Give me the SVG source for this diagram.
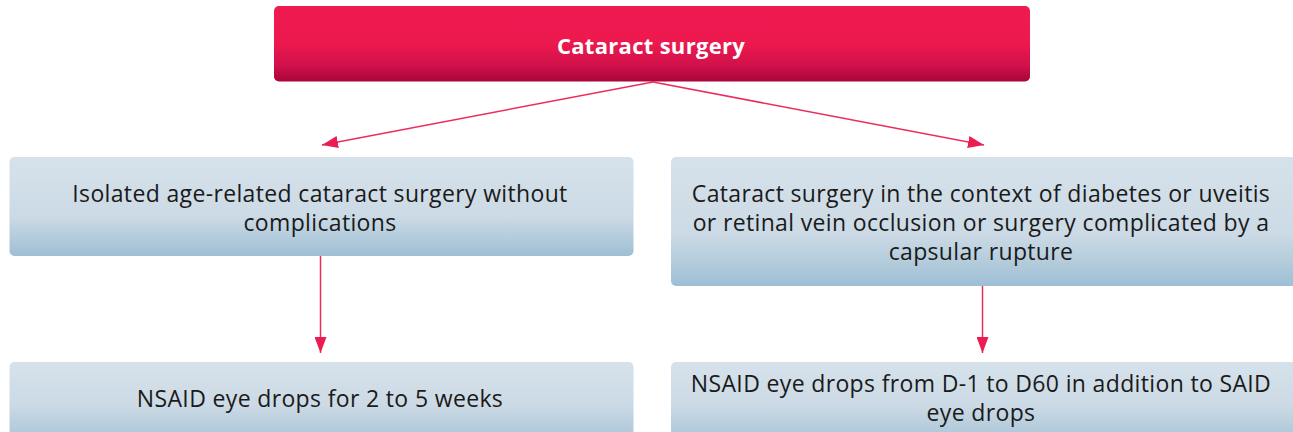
<svg xmlns="http://www.w3.org/2000/svg" width="1293" height="432" viewBox="0 0 1293 432">
<defs>
<linearGradient id="gRed" x1="0" y1="0" x2="0" y2="1">
<stop offset="0" stop-color="#F01A51"/>
<stop offset="0.5" stop-color="#EC194F"/>
<stop offset="0.8" stop-color="#D0104A"/>
<stop offset="1" stop-color="#A8063A"/>
</linearGradient>
<linearGradient id="gBlue" x1="0" y1="0" x2="0" y2="1">
<stop offset="0" stop-color="#D6E2EB"/>
<stop offset="0.6" stop-color="#CCDAE5"/>
<stop offset="1" stop-color="#9EBFD4"/>
</linearGradient>
<linearGradient id="gBlueBot" x1="0" y1="0" x2="0" y2="1">
<stop offset="0" stop-color="#D6E2EB"/>
<stop offset="0.55" stop-color="#CCDAE5"/>
<stop offset="1" stop-color="#A9C5D8"/>
</linearGradient>
<marker id="arr" viewBox="0 0 16 12" refX="16" refY="6" markerWidth="16" markerHeight="12" markerUnits="userSpaceOnUse" orient="auto">
<path d="M0,0 L16,6 L0,12 z" fill="#EC1C52"/>
</marker>
<style>
.blue{fill:url(#gBlue);}
.blueb{fill:url(#gBlueBot);}
.t{font-family:"Open Sans","Liberation Sans",sans-serif;font-size:23px;letter-spacing:0.35px;fill:#1a1a1a;text-anchor:middle;}
.tb{font-family:"Open Sans","Liberation Sans",sans-serif;font-size:22px;letter-spacing:0.3px;font-weight:bold;fill:#ffffff;text-anchor:middle;}
.c{stroke:#EC2C5C;stroke-width:1.5;fill:none;marker-end:url(#arr);}
</style>
</defs>
<g id="connectors">
<line class="c" x1="653" y1="82" x2="322" y2="145"/>
<line class="c" x1="653" y1="82" x2="984" y2="145"/>
<line class="c" x1="320.5" y1="256" x2="320.5" y2="353"/>
<line class="c" x1="982.5" y1="286" x2="982.5" y2="353"/>
</g>
<g id="n0">
<rect x="274" y="6" width="756" height="75.5" rx="5" fill="url(#gRed)"/>
<text class="tb" x="651" y="53.5">Cataract surgery</text>
</g>
<g id="n1">
<rect class="blue" x="9.5" y="157" width="624" height="99" rx="5"/>
<text class="t" x="320" y="201.5">Isolated age-related cataract surgery without</text>
<text class="t" x="320" y="230.5">complications</text>
</g>
<g id="n2">
<rect class="blue" x="671" y="157" width="626" height="129" rx="5"/>
<text class="t" x="981" y="201.5">Cataract surgery in the context of diabetes or uveitis</text>
<text class="t" x="981" y="230.5">or retinal vein occlusion or surgery complicated by a</text>
<text class="t" x="981" y="259.5">capsular rupture</text>
</g>
<g id="n3">
<rect class="blueb" x="9.5" y="362" width="624" height="78" rx="5"/>
<text class="t" x="320" y="406.5">NSAID eye drops for 2 to 5 weeks</text>
</g>
<g id="n4">
<rect class="blueb" x="671" y="362" width="626" height="78" rx="5"/>
<text class="t" x="981" y="392">NSAID eye drops from D-1 to D60 in addition to SAID</text>
<text class="t" x="981" y="421">eye drops</text>
</g>
</svg>
